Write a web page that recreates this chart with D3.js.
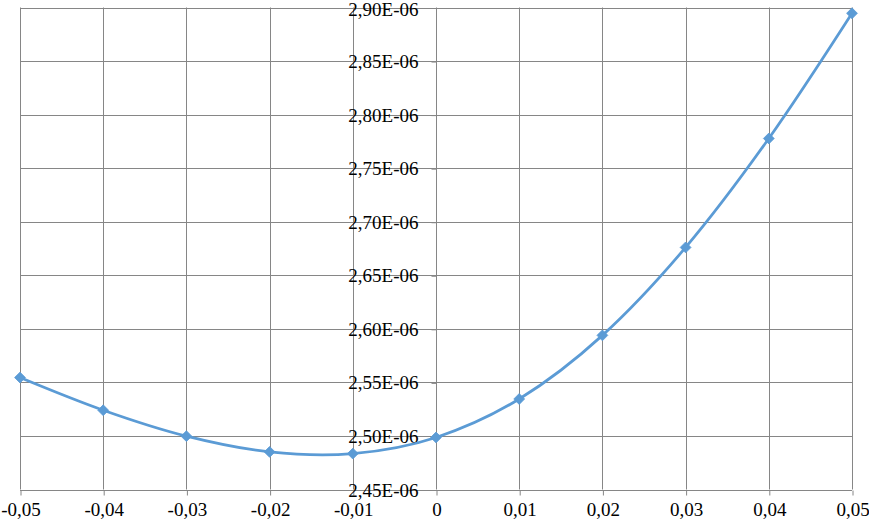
<!DOCTYPE html>
<html>
<head>
<meta charset="utf-8">
<script src="https://cdn.jsdelivr.net/npm/d3@7"></script>
<style>
  html, body { margin: 0; padding: 0; background: #fff; }
  svg { display: block; }
</style>
</head>
<body>
<svg id="chart" width="869" height="523"></svg>
<script>
// Data (y values in units of 1E-06)
const xValues = [-0.05, -0.04, -0.03, -0.02, -0.01, 0, 0.01, 0.02, 0.03, 0.04, 0.05];
const yValues = [2.5545, 2.524, 2.4998, 2.4851, 2.4835, 2.4986, 2.5345, 2.5939, 2.676, 2.7777, 2.8946];
const xTicks = [-0.05, -0.04, -0.03, -0.02, -0.01, 0, 0.01, 0.02, 0.03, 0.04, 0.05];
const yTicks = [2.45, 2.50, 2.55, 2.60, 2.65, 2.70, 2.75, 2.80, 2.85, 2.90];

const svg = d3.select("#chart");
const mLeft = 20, mRight = 852, mTop = 7.5, mBottom = 489.5;

const x = d3.scaleLinear().domain([-0.05, 0.05]).range([mLeft, mRight]);
const y = d3.scaleLinear().domain([2.45, 2.90]).range([mBottom, mTop]);

const gridColor = "#868686";
const fontFam = "'Liberation Serif', 'Times New Roman', Times, 'DejaVu Serif', serif";
const fontSize = 19;

// Horizontal gridlines
svg.append("g").selectAll("line").data(yTicks).join("line")
  .attr("x1", mLeft).attr("x2", mRight)
  .attr("y1", d => Math.round(y(d)) + 0.5).attr("y2", d => Math.round(y(d)) + 0.5)
  .attr("stroke", gridColor).attr("stroke-width", 1);

// Vertical gridlines
svg.append("g").selectAll("line").data(xTicks).join("line")
  .attr("x1", d => Math.round(x(d)) + 0.5).attr("x2", d => Math.round(x(d)) + 0.5)
  .attr("y1", mTop).attr("y2", mBottom)
  .attr("stroke", gridColor).attr("stroke-width", 1);

const fmtX = d => d === 0 ? "0" : d3.format(".2f")(d).replace(".", ",").replace("−", "-");
const fmtY = d => d3.format(".2f")(d).replace(".", ",") + "E-06";

// X axis at bottom
const xAxis = svg.append("g")
  .attr("transform", `translate(0.5,${Math.round(mBottom) + 0.5})`)
  .call(d3.axisBottom(x).tickValues(xTicks).tickSize(5).tickPadding(7).tickFormat(fmtX));
xAxis.attr("font-family", fontFam).attr("font-size", fontSize);
xAxis.select(".domain").remove();
xAxis.selectAll("line").attr("stroke", gridColor);
xAxis.selectAll("text").attr("fill", "#000");

// Y axis crossing at x = 0
const yAxis = svg.append("g")
  .attr("transform", `translate(${Math.round(x(0)) + 0.5},0.5)`)
  .call(d3.axisLeft(y).tickValues(yTicks).tickSize(5).tickPadding(13).tickFormat(fmtY));
yAxis.attr("font-family", fontFam).attr("font-size", fontSize);
yAxis.select(".domain").remove();
yAxis.selectAll("line").attr("stroke", gridColor);
yAxis.selectAll("text").attr("fill", "#000")
  .filter(d => d === yTicks[yTicks.length - 1]).attr("dy", "0.42em");

// Series line
const pts = xValues.map((d, i) => [d, yValues[i]]);
const line = d3.line().x(d => x(d[0])).y(d => y(d[1])).curve(d3.curveCardinal.tension(0));
svg.append("path").datum(pts)
  .attr("d", line)
  .attr("fill", "none")
  .attr("stroke", "#5B9BD5")
  .attr("stroke-width", 2.75)
  .attr("stroke-linejoin", "round");

// Diamond markers
svg.append("g").selectAll("path").data(pts).join("path")
  .attr("transform", d => `translate(${x(d[0])},${y(d[1])})`)
  .attr("d", d3.symbol().type(d3.symbolDiamond2).size(75))
  .attr("fill", "#5B9BD5")
  .attr("stroke", "#5B9BD5")
  .attr("stroke-width", 0.8);
</script>
</body>
</html>
